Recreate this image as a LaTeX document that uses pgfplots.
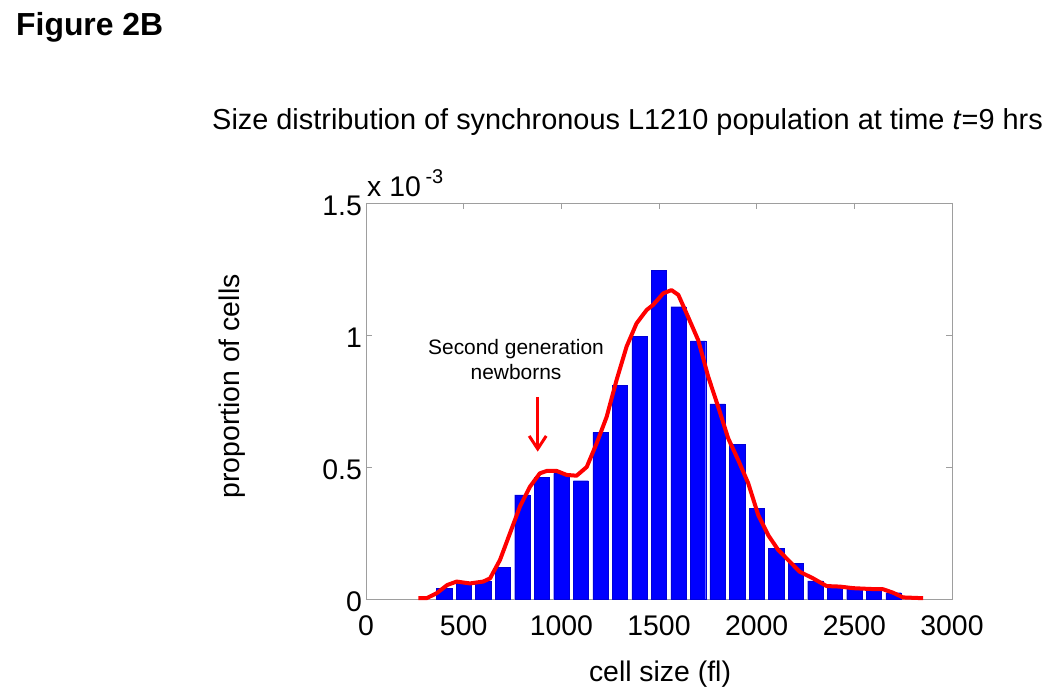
\documentclass[border=0pt]{standalone}
\usepackage{fontspec}
\setmainfont{Liberation Sans}
\usepackage{pgfplots}
\pgfplotsset{compat=1.18}
\usetikzlibrary{arrows.meta}
\begin{document}
\begin{tikzpicture}
\path[use as bounding box] (0bp,0bp) rectangle (1050bp,700bp);
\begin{axis}[
  at={(366bp,101bp)}, anchor=south west,
  scale only axis, width=586bp, height=396bp,
  xmin=0, xmax=3000, ymin=0, ymax=1.5,
  xtick={0,500,1000,1500,2000,2500,3000},
  xticklabels={0,500,1000,1500,2000,2500,3000},
  ytick={0,0.5,1,1.5},
  yticklabels={0,0.5,1,1.5},
  scaled ticks=false,
  tick align=inside, major tick length=6bp,
  axis line style={black!38, line width=0.8bp},
  tick style={black!38, line width=0.8bp},
  ticklabel style={font=\fontsize{28.5}{30}\selectfont},
  /pgf/number format/assume math mode=true,
  xticklabel style={inner ysep=0pt, yshift=-16bp},
  yticklabel style={inner xsep=0pt, xshift=-4bp, yshift=-3bp},
  clip=false,
]
\addplot[ybar, bar width=78, fill=blue, draw=blue!85!black, line width=0.3bp] coordinates {
(400,0.041) (500,0.059) (600,0.066) (700,0.120) (800,0.394) (900,0.460)
(1000,0.476) (1100,0.448) (1200,0.631) (1300,0.810) (1400,0.996) (1500,1.246)
(1600,1.107) (1700,0.978) (1800,0.739) (1900,0.586) (2000,0.343) (2100,0.192)
(2200,0.135) (2300,0.069) (2400,0.050) (2500,0.044) (2600,0.040) (2700,0.024)
};
\addplot[red, line width=4bp, line join=round, mark=none] coordinates {
(268,0.003) (310,0.003) (362,0.022) (416,0.053) (464,0.066) (532,0.059)
(600,0.066) (635,0.078) (686,0.148) (737,0.249) (788,0.350) (839,0.425)
(890,0.476) (925,0.485) (976,0.485) (1027,0.470) (1078,0.467) (1130,0.500)
(1181,0.590) (1232,0.690) (1283,0.830) (1334,0.956) (1385,1.044) (1437,1.095)
(1470,1.114) (1522,1.158) (1564,1.170) (1599,1.152) (1641,1.082) (1701,0.980)
(1752,0.842) (1803,0.728) (1854,0.609) (1905,0.527) (1957,0.438) (2008,0.318)
(2059,0.242) (2110,0.186) (2170,0.141) (2221,0.103) (2289,0.078) (2358,0.049)
(2426,0.047) (2494,0.041) (2579,0.038) (2647,0.037) (2698,0.024) (2749,0.006)
(2852,0.003)
};
\draw[red, line width=3bp, -{Straight Barb[length=13bp, width=17bp, line width=3bp]}] (axis cs:879,0.766) -- (axis cs:879,0.558);
\end{axis}
\node[anchor=base west, inner sep=0pt, font=\bfseries\fontsize{32}{34}\selectfont] at (16bp,664bp) {Figure 2B};
\node[anchor=base, inner sep=0pt, font=\fontsize{29}{31}\selectfont] at (627.5bp,570bp) {Size distribution of synchronous L1210 population at time \textit{t}=9 hrs};
\node[anchor=base west, inner sep=0pt, font=\fontsize{28.5}{30}\selectfont] at (367bp,503bp) {x 10\,\raisebox{13bp}{\fontsize{20}{22}\selectfont -3}};
\node[rotate=90, anchor=center, inner sep=0pt, font=\fontsize{28.5}{30}\selectfont] at (232bp,313.5bp) {proportion of cells};
\node[anchor=base, inner sep=0pt, font=\fontsize{28.5}{30}\selectfont] at (660bp,19bp) {cell size (fl)};
\node[anchor=base, inner sep=0pt, font=\fontsize{21}{25}\selectfont] at (516bp,345bp) {Second generation};
\node[anchor=base, inner sep=0pt, font=\fontsize{21}{25}\selectfont] at (516bp,320bp) {newborns};
\end{tikzpicture}
\end{document}
